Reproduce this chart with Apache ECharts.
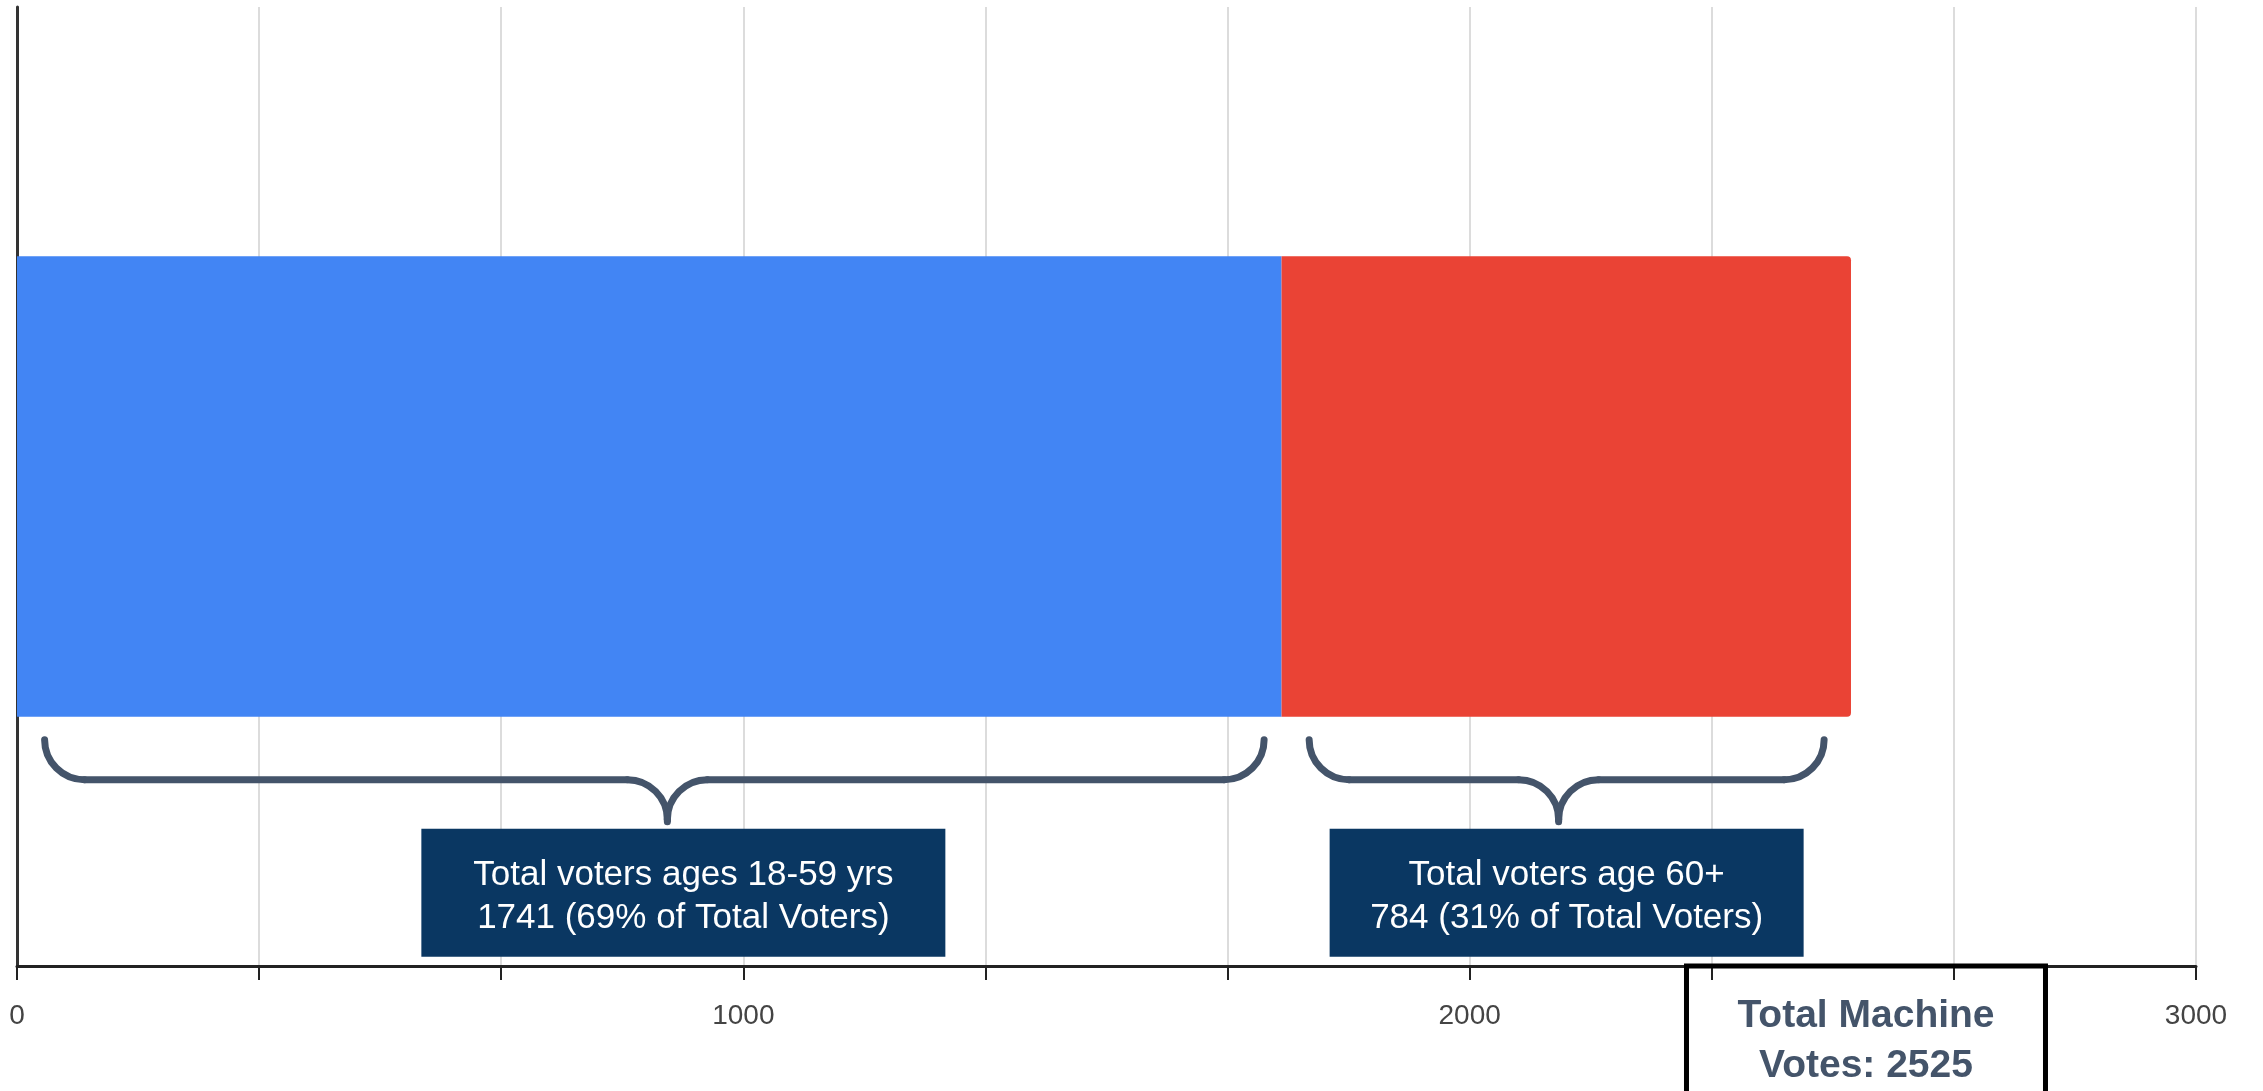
<!DOCTYPE html>
<html>
<head>
<meta charset="utf-8">
<title>Total Machine Votes by Age Group</title>
<script src="https://cdn.jsdelivr.net/npm/echarts@6/dist/echarts.min.js"></script>
<style>
  html, body { margin: 0; padding: 0; background: #ffffff; }
  #chart { width: 2263px; height: 1091px; }
</style>
</head>
<body>
<div id="chart"></div>
<script>
// Voter counts by age group (one stacked bar)
const categories = ['Machine votes'];
const groupNames = ['Ages 18-59', 'Age 60+'];
const votes18to59 = [1741];
const votes60plus = [784];
const totalVotes = 2525;
const groupLabels = [
  ['Total voters ages 18-59 yrs', '1741 (69% of Total Voters)'],
  ['Total voters age 60+', '784 (31% of Total Voters)']
];
const totalLabel = ['Total Machine', 'Votes: 2525'];
const axisMax = 3000;
const tickStep = 1000 / 3;

const FONT = '"Liberation Sans", Arial, Helvetica, sans-serif';
const BRACE_COLOR = '#44546a';
const BOX_COLOR = '#0a3762';

const chart = echarts.init(document.getElementById('chart'), null, { renderer: 'canvas' });

const GRID = { left: 17, right: 67, top: 7, bottom: 125 };

chart.setOption({
  animation: false,
  backgroundColor: '#ffffff',
  grid: { left: GRID.left, right: GRID.right, top: GRID.top, bottom: GRID.bottom, containLabel: false },
  xAxis: {
    type: 'value',
    min: 0,
    max: axisMax,
    interval: tickStep,
    axisLine: { show: true, lineStyle: { color: '#222222', width: 3 } },
    axisTick: { show: true, length: 14, lineStyle: { color: '#222222', width: 2 } },
    axisLabel: {
      margin: 36,
      fontSize: 28,
      fontFamily: FONT,
      color: '#444444',
      formatter: function (v) {
        const k = v / 1000;
        return Math.abs(k - Math.round(k)) < 1e-6 ? String(Math.round(v)) : '';
      }
    },
    splitLine: { show: true, lineStyle: { color: '#dcdcdc', width: 2 } }
  },
  yAxis: {
    type: 'category',
    data: categories,
    axisLine: { show: true, lineStyle: { color: '#333333', width: 3 } },
    axisTick: { show: false },
    axisLabel: { show: false },
    splitLine: { show: false }
  },
  series: [
    {
      name: groupNames[0],
      type: 'bar',
      stack: 'votes',
      data: votes18to59,
      barWidth: '48%',
      itemStyle: { color: '#4285f4' }
    },
    {
      name: groupNames[1],
      type: 'bar',
      stack: 'votes',
      data: votes60plus,
      barWidth: '48%',
      itemStyle: { color: '#ea4335', borderRadius: [0, 4, 4, 0] }
    }
  ]
});

// Annotation layer: braces under each segment, callout boxes, total box
function drawAnnotations() {
  const px = v => chart.convertToPixel({ xAxisIndex: 0 }, v);
  const H = chart.getHeight();
  const axisY = H - GRID.bottom;           // x-axis line position
  const bandH = axisY - GRID.top;
  const barBottom = GRID.top + bandH / 2 + bandH * 0.48 / 2;

  const yTop = barBottom + 23;   // brace arm ends
  const r = 40;
  const yMid = yTop + r;         // brace horizontal run
  const yTip = yMid + r + 2;     // brace point

  const stroke = { fill: null, stroke: BRACE_COLOR, lineWidth: 7, lineCap: 'round' };
  const arc = (cx, cy, a0, a1) => ({
    type: 'arc',
    shape: { cx: cx, cy: cy, r: r, startAngle: a0, endAngle: a1, clockwise: true },
    style: stroke,
    z: 50
  });
  const line = (xa, ya, xb, yb) => ({
    type: 'line',
    shape: { x1: xa, y1: ya, x2: xb, y2: yb },
    style: stroke,
    z: 50
  });

  const segments = [
    [0, votes18to59[0]],
    [votes18to59[0], votes18to59[0] + votes60plus[0]]
  ];
  // brace layout tweaks per segment: arm insets (axis units), point and box nudges (px)
  const armInsetStart = [38, 38];
  const armInsetEnd = [24, 37];
  const pointNudge = [13, -8];
  const boxNudge = [16, 8];
  const boxWidths = [524, 474];

  const elements = [];
  const PI = Math.PI;

  segments.forEach((seg, i) => {
    const x1 = px(seg[0] + armInsetStart[i]);
    const x2 = px(seg[1] - armInsetEnd[i]);
    const xm = (x1 + x2) / 2 + pointNudge[i];

    elements.push(arc(x1 + r, yTop, PI / 2, PI));            // left arm
    elements.push(line(x1 + r, yMid, xm - r, yMid));          // left run
    elements.push(arc(xm - r, yMid + r, -PI / 2, 0));         // cusp, left half
    elements.push(arc(xm + r, yMid + r, PI, PI * 1.5));       // cusp, right half
    elements.push(line(xm, yMid + r - 1, xm, yTip));           // point
    elements.push(line(xm + r, yMid, x2 - r, yMid));          // right run
    elements.push(arc(x2 - r, yTop, 0, PI / 2));              // right arm

    const boxW = boxWidths[i];
    const boxTop = yTip + 7;
    const boxH = 128;
    const cx = xm + boxNudge[i];
    elements.push({
      type: 'rect',
      shape: { x: cx - boxW / 2, y: boxTop, width: boxW, height: boxH },
      style: { fill: BOX_COLOR },
      z: 50
    });
    elements.push({
      type: 'text',
      x: cx,
      y: boxTop + boxH / 2 + 4,
      style: {
        text: groupLabels[i].join('\n'),
        fill: '#ffffff',
        font: '35px ' + FONT,
        lineHeight: 43,
        align: 'center',
        verticalAlign: 'middle'
      },
      z: 51
    });
  });

  // Total box hanging from the axis line
  const tx = px(totalVotes) + 15;
  const tW = 359;
  elements.push({
    type: 'rect',
    shape: { x: tx - tW / 2, y: axisY, width: tW, height: H - axisY + 20 },
    style: { fill: 'rgba(255,255,255,0)', stroke: '#000000', lineWidth: 5 },
    z: 50
  });
  elements.push({
    type: 'text',
    x: tx,
    y: axisY + 75,
    style: {
      text: totalLabel.join('\n'),
      fill: BRACE_COLOR,
      font: 'bold 39px ' + FONT,
      lineHeight: 50,
      align: 'center',
      verticalAlign: 'middle'
    },
    z: 51
  });

  chart.setOption({ graphic: { elements: elements } });
}

drawAnnotations();
</script>
</body>
</html>
